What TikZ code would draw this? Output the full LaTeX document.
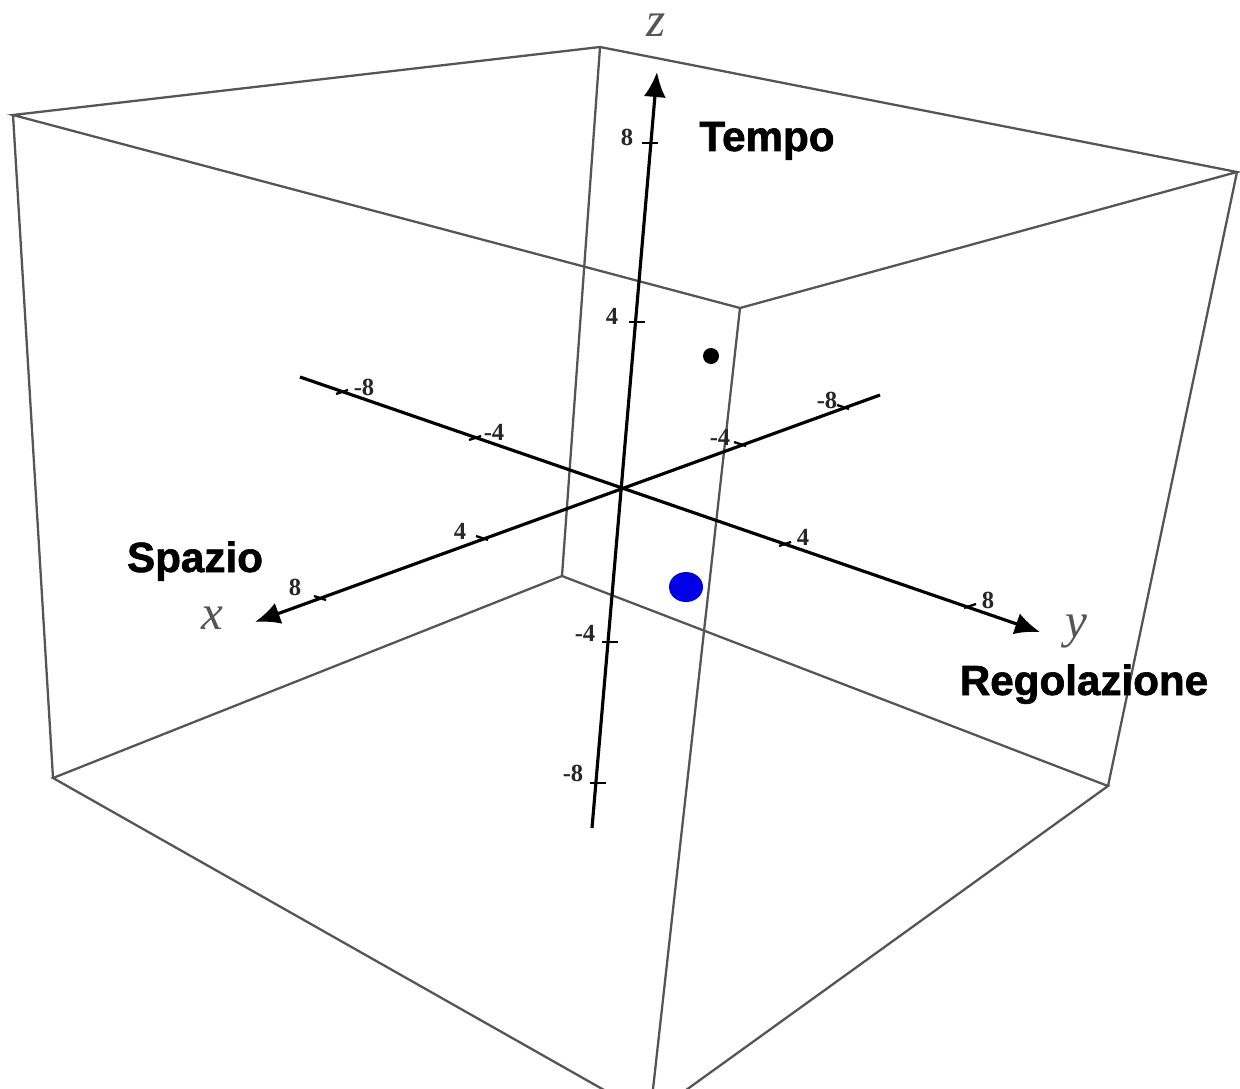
\documentclass[tikz,border=0pt]{standalone}
\usepackage{fontspec}
\setmainfont{Liberation Serif}
\newfontfamily\heavyfont{Liberation Sans}[BoldFeatures={FakeBold=1.5}]
\usetikzlibrary{arrows.meta}
\definecolor{edgegray}{HTML}{555555}
\definecolor{pointblue}{HTML}{0000E6}

\begin{document}
\begin{tikzpicture}[
    x=0.02cm, y=-0.02cm,
    edge/.style={draw=edgegray, line width=1.3pt},
    axis/.style={draw=black, line width=1.8pt},
    axisarrow/.style={axis, -{Latex[length=5mm, width=4.4mm]}},
    tickmark/.style={draw=black, line width=1.3pt},
    ticklabel/.style={font=\fontsize{14}{16}\selectfont\bfseries, inner sep=0pt, text=black!85},
    axisname/.style={font=\fontsize{28}{30}\selectfont\itshape, inner sep=0pt, text=edgegray},
    dimlabel/.style={font=\heavyfont\fontsize{24}{28}\selectfont\bfseries, inner sep=0pt, anchor=base}
  ]

  \clip (0,0) rectangle (1240,1088);

  % box corners
  \coordinate (topleft) at (13,115);
  \coordinate (topback) at (600,47);
  \coordinate (topright) at (1237,172);
  \coordinate (topfront) at (740,308);
  \coordinate (botleft) at (53,778);
  \coordinate (botback) at (562,576);
  \coordinate (botright) at (1108,786);
  \coordinate (botfront) at (650,1116);

  % box edges
  \draw[edge] (topleft) -- (topback) -- (topright) -- (topfront) -- cycle;
  \draw[edge] (botleft) -- (botback) -- (botright) -- (botfront) -- cycle;
  \draw[edge] (topleft) -- (botleft);
  \draw[edge] (topback) -- (botback);
  \draw[edge] (topright) -- (botright);
  \draw[edge] (topfront) -- (botfront);

  % axes
  \coordinate (origin) at (620,488);
  \coordinate (xstart) at (880,395);
  \coordinate (xend) at (255,622);
  \coordinate (ystart) at (300,377);
  \coordinate (yend) at (1040,632);
  \coordinate (zstart) at (592,828);
  \coordinate (zend) at (657,72);

  \draw[axisarrow] (xstart) -- (xend);
  \draw[axisarrow] (ystart) -- (yend);
  \draw[axisarrow] (zstart) -- (zend);

  % ticks
  \foreach \px/\py in {843/407, 740/444, 482/538, 320/598}
    \draw[tickmark] (\px-6,\py-2) -- (\px+6,\py+2);
  \foreach \px/\py in {342/392, 475/438, 785/544, 970/606}
    \draw[tickmark] (\px-6,\py+2) -- (\px+6,\py-2);
  \foreach \px/\py in {648/143, 635/322, 608/642, 596/783}
    \draw[tickmark] (\px-6,\py) -- (\px+10,\py);

  % tick labels
  \node[ticklabel] (xm8) at (827,400) {-8};
  \node[ticklabel] (xm4) at (720,437) {-4};
  \node[ticklabel] (xp4) at (460,531) {4};
  \node[ticklabel] (xp8) at (295,587) {8};
  \node[ticklabel] (ym8) at (364,387) {-8};
  \node[ticklabel] (ym4) at (494,432) {-4};
  \node[ticklabel] (yp4) at (803,537) {4};
  \node[ticklabel] (yp8) at (988,600) {8};
  \node[ticklabel] (zp8) at (627,137) {8};
  \node[ticklabel] (zp4) at (612,316) {4};
  \node[ticklabel] (zm4) at (585,633) {-4};
  \node[ticklabel] (zm8) at (573,773) {-8};

  % axis names
  \node[axisname] (xname) at (212,618) {x};
  \node[axisname] (yname) at (1076,632) {y};
  \node[axisname] (zname) at (656,25) {z};

  \node[dimlabel] (tempo) at (767,151) {Tempo};
  \node[dimlabel] (spazio) at (195,572) {Spazio};
  \node[dimlabel] (regolazione) at (1084,695) {Regolazione};

  % points
  \fill[black] (711,356) circle[radius=8];
  \fill[pointblue] (686,587) ellipse[x radius=17, y radius=15];

\end{tikzpicture}
\end{document}
